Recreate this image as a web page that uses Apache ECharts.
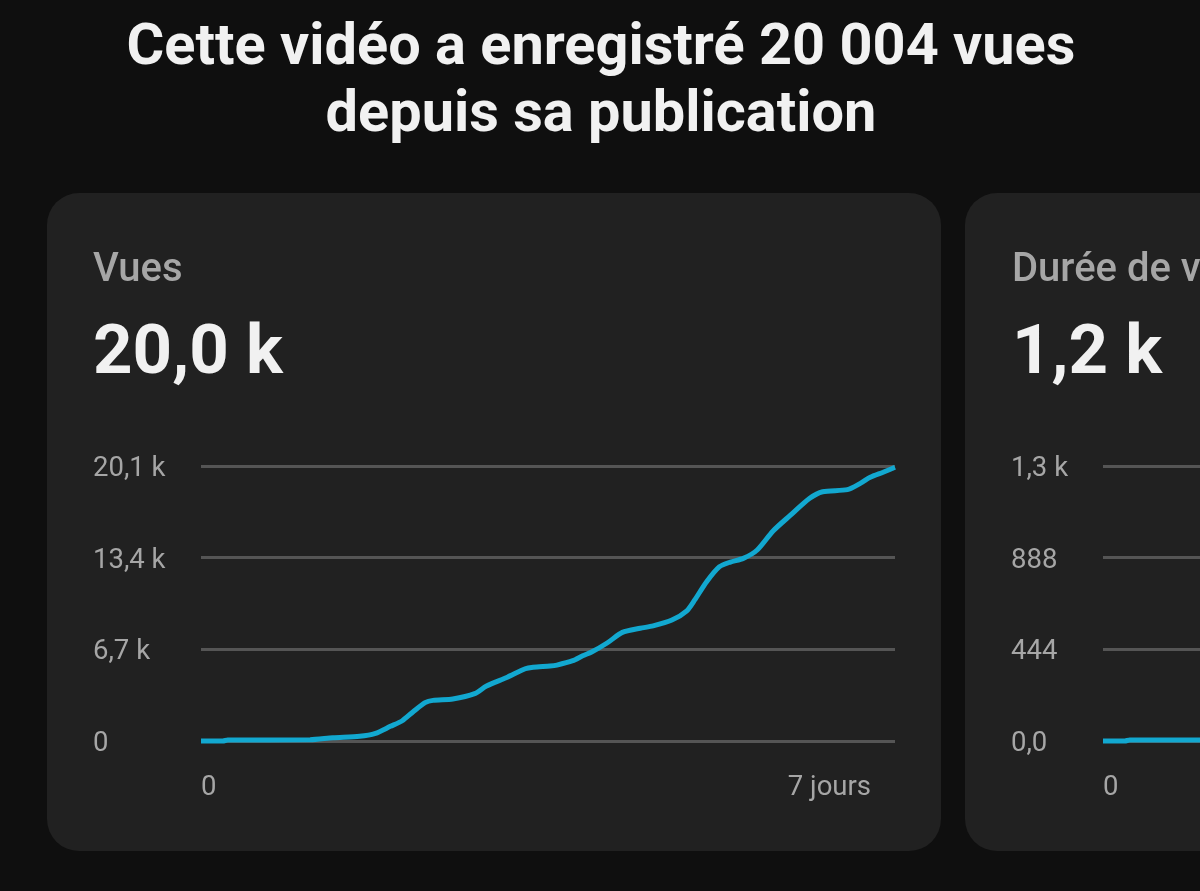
<!DOCTYPE html>
<html>
<head>
<meta charset="utf-8">
<style>
  html, body { margin: 0; height: 100%; background: #0f0f0f; }
  #main { width: 1200px; height: 891px; }
</style>
<script src="https://cdn.jsdelivr.net/npm/echarts@6/dist/echarts.min.js"></script>
</head>
<body>
<div id="main"></div>
<script>
const viewDays = [0, 0.22, 0.27, 1.1, 1.33, 1.6, 1.76, 1.91, 2.03, 2.14, 2.26, 2.34, 2.54, 2.76, 2.88, 3.09, 3.27, 3.35, 3.52, 3.59, 3.75, 3.85, 3.94, 4.1, 4.25, 4.43, 4.56, 4.75, 4.9, 4.98, 5.1, 5.23, 5.34, 5.47, 5.61, 5.77, 5.94, 6.14, 6.27, 6.52, 6.65, 6.75, 6.88, 7];
const viewValues = [0, 0, 70, 90, 240, 340, 560, 1070, 1480, 2140, 2800, 2970, 3070, 3460, 4020, 4660, 5280, 5390, 5480, 5550, 5870, 6230, 6500, 7180, 7940, 8240, 8410, 8840, 9520, 10310, 11640, 12740, 13080, 13350, 13960, 15350, 16470, 17740, 18220, 18370, 18830, 19270, 19640, 20004];
const viewTicks = ['0', '6,7 k', '13,4 k', '20,1 k'];

// only the start of the second card is visible in the picture
const watchDays = [0, 0.22, 0.27, 1];
const watchValues = [0, 0, 5, 5];
const watchTicks = ['0,0', '444', '888', '1,3 k'];

const xTicks = ['0', '7 jours'];

const dom = document.getElementById('main');
const myChart = echarts.init(dom, null, { renderer: 'canvas' });

function pairs(xs, ys) {
  return xs.map((x, i) => [x, ys[i]]);
}

function yAxis(gridIndex, max, ticks) {
  return {
    type: 'value',
    gridIndex,
    min: 0,
    max,
    interval: max / 3,
    axisLine: { show: false },
    axisTick: { show: false },
    splitLine: { lineStyle: { color: '#555555', width: 3 } },
    axisLabel: {
      align: 'left',
      margin: gridIndex === 0 ? 108 : 92,
      formatter: (v) => `{t|${ticks[Math.round(v / (max / 3))]}}`,
      // plain label padding is ignored here, rich text keeps it
      rich: {
        t: { color: '#a6a6a6', fontFamily: 'Roboto', fontSize: 27.5, padding: [6, 0, 0, 0] },
      },
    },
  };
}

function xAxis(gridIndex) {
  return {
    type: 'value',
    gridIndex,
    min: 0,
    max: 7,
    interval: 7,
    axisLine: { show: false },
    axisTick: { show: false },
    splitLine: { show: false },
    axisLabel: {
      color: '#a6a6a6',
      fontFamily: 'Roboto',
      fontSize: 27.5,
      margin: 33,
      alignMinLabel: 'left',
      alignMaxLabel: 'right',
      padding: [0, 24, 0, 0],
      formatter: (v) => (v === 0 ? xTicks[0] : xTicks[1]),
    },
  };
}

function lineSeries(index, data) {
  return {
    type: 'line',
    xAxisIndex: index,
    yAxisIndex: index,
    data,
    smooth: 0.25,
    showSymbol: false,
    clip: false,
    lineStyle: { color: '#12a8d0', width: 5 },
  };
}

function card(x) {
  return {
    type: 'rect',
    z: -1,
    shape: { x, y: 193, width: 894, height: 658, r: 32 },
    style: { fill: '#212121' },
  };
}

function label(left, top, text, fontSize, fontWeight, color) {
  return { left, top, text, textStyle: { fontFamily: 'Roboto', fontSize, fontWeight, color } };
}

myChart.setOption({
  backgroundColor: '#0f0f0f',
  animation: false,
  title: [
    {
      left: 596,
      top: 11,
      textAlign: 'center',
      text: 'Cette vidéo a enregistré 20 004 vues\ndepuis sa publication',
      textStyle: { fontFamily: 'Roboto', fontSize: 57.7, fontWeight: 700, lineHeight: 67, color: '#f1f1f1' },
    },
    label(88, 246, 'Vues', 40, 500, '#a6a6a6'),
    label(88, 316, '20,0 k', 69, 700, '#f1f1f1'),
    label(1007, 246, 'Durée de vues', 40, 500, '#a6a6a6'),
    label(1007, 316, '1,2 k', 69, 700, '#f1f1f1'),
  ],
  graphic: { elements: [card(47), card(965)] },
  grid: [
    { left: 201, top: 466, width: 694, height: 275, outerBoundsMode: 'none' },
    { left: 1103, top: 466, width: 694, height: 275, outerBoundsMode: 'none' },
  ],
  xAxis: [xAxis(0), xAxis(1)],
  yAxis: [yAxis(0, 20100, viewTicks), yAxis(1, 1332, watchTicks)],
  series: [
    lineSeries(0, pairs(viewDays, viewValues)),
    lineSeries(1, pairs(watchDays, watchValues)),
  ],
});
</script>
</body>
</html>
